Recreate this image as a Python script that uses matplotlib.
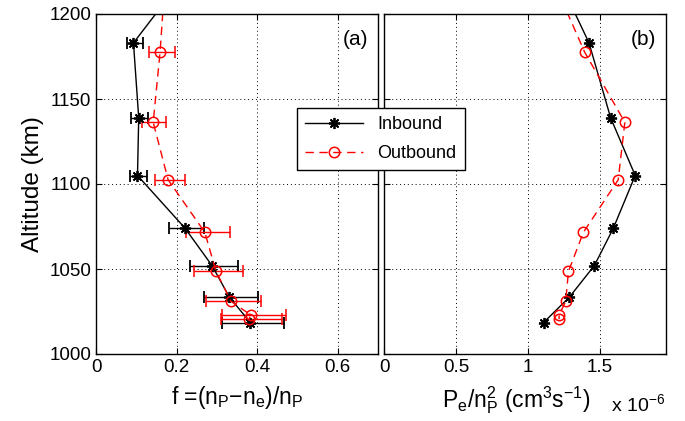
import matplotlib
matplotlib.use("Agg")
import matplotlib.pyplot as plt
from matplotlib.lines import Line2D

plt.rcParams['font.family'] = ['Liberation Sans', 'DejaVu Sans']
plt.rcParams['mathtext.fontset'] = 'custom'
plt.rcParams['mathtext.rm'] = 'Liberation Sans'
plt.rcParams['mathtext.it'] = 'Liberation Sans'

# Inbound
alt_in = [1216, 1183, 1139, 1105, 1074, 1052, 1033.5, 1018.5]
f_in = [0.200, 0.093, 0.106, 0.103, 0.221, 0.288, 0.331, 0.383]
f_in_lo = [0.180, 0.076, 0.087, 0.084, 0.180, 0.234, 0.269, 0.314]
f_in_hi = [0.220, 0.116, 0.128, 0.126, 0.269, 0.353, 0.401, 0.466]
p_in = [1.24, 1.425, 1.575, 1.746, 1.594, 1.462, 1.289, 1.109]

# Outbound
alt_out = [1215, 1177.5, 1136.3, 1102.5, 1071.6, 1048.6, 1031.0, 1023.0, 1020.5]
f_out = [0.170, 0.159, 0.142, 0.179, 0.270, 0.298, 0.335, 0.384, 0.380]
f_out_lo = [0.140, 0.131, 0.114, 0.146, 0.223, 0.243, 0.274, 0.312, 0.310]
f_out_hi = [0.200, 0.196, 0.174, 0.221, 0.333, 0.364, 0.410, 0.471, 0.462]
p_out = [1.20, 1.395, 1.674, 1.628, 1.386, 1.282, 1.263, 1.217, 1.217]

AST = (8, 2, 0)
in_kw = dict(color='black', marker=AST, markersize=8, markeredgewidth=1.3, linewidth=1.0)
out_kw = dict(color='red', marker='o', markersize=7.5, markerfacecolor='none',
              markeredgewidth=1.1, linestyle=(0, (6, 4)), linewidth=1.0)

W, H = 685, 421
fig = plt.figure(figsize=(W/100, H/100), dpi=100)
ax1 = fig.add_axes([96/W, 1-354/H, (378-96)/W, (354-14)/H])
ax2 = fig.add_axes([384/W, 1-354/H, (666-384)/W, (354-14)/H])

def style(ax):
    ax.set_ylim(1000, 1200)
    ax.set_yticks([1000, 1050, 1100, 1150, 1200])
    ax.grid(True, linestyle=(0, (1, 3)), color='black', linewidth=0.7)
    ax.tick_params(direction='in', top=True, right=True, labelsize=13.5, length=4, width=0.8)
    for s in ax.spines.values():
        s.set_linewidth(1.0)

# Panel (a)
xerr_in = [[f - lo for f, lo in zip(f_in, f_in_lo)], [hi - f for f, hi in zip(f_in, f_in_hi)]]
xerr_out = [[f - lo for f, lo in zip(f_out, f_out_lo)], [hi - f for f, hi in zip(f_out, f_out_hi)]]
ax1.errorbar(f_in, alt_in, xerr=xerr_in, elinewidth=1.0, capsize=4, capthick=1.0, **in_kw)
ax1.errorbar(f_out, alt_out, xerr=xerr_out, elinewidth=1.0, capsize=4, capthick=1.0, **out_kw)
style(ax1)
ax1.set_xlim(0, 0.7)
ax1.set_xticks([0, 0.2, 0.4, 0.6])
ax1.set_xticklabels(['0', '0.2', '0.4', '0.6'])
ax1.set_ylabel('Altitude (km)', fontsize=17.5, labelpad=4)
ax1.set_xlabel(r'f =(n$_\mathrm{P}$$-$n$_\mathrm{e}$)/n$_\mathrm{P}$', fontsize=16.5, labelpad=6)
ax1.text(0.965, 0.925, '(a)', transform=ax1.transAxes, ha='right', va='center', fontsize=15)

# Panel (b)
ax2.plot(p_in, alt_in, **in_kw)
ax2.plot(p_out, alt_out, **out_kw)
style(ax2)
ax2.set_xlim(0, 1.96)
ax2.set_xticks([0, 0.5, 1, 1.5])
ax2.set_xticklabels(['0', '0.5', '1', '1.5'])
ax2.set_yticklabels([])
ax2.set_xlabel(r'P$_\mathrm{e}$/n$_\mathrm{P}^2$ (cm$^3$s$^{-1}$)', fontsize=16.5, labelpad=4)
ax2.xaxis.set_label_coords(0.47, -0.09, transform=ax2.transAxes)
ax2.xaxis.label.set_va('top')
ax2.text(0.965, 0.925, '(b)', transform=ax2.transAxes, ha='right', va='center', fontsize=15)
fig.text(611/W, 1-411/H, r'x 10$^{-6}$', fontsize=14, ha='left', va='baseline')

handles = [Line2D([], [], **in_kw), Line2D([], [], **out_kw)]
leg = fig.legend(handles, ['Inbound', 'Outbound'], loc='center',
                 bbox_to_anchor=(381/W, 1-139/H), fontsize=13, frameon=True,
                 fancybox=False, edgecolor='black', framealpha=1, handlelength=3.2,
                 borderpad=0.45, labelspacing=0.65)
leg.get_frame().set_linewidth(1.0)

fig.savefig('out.png', dpi=100)
